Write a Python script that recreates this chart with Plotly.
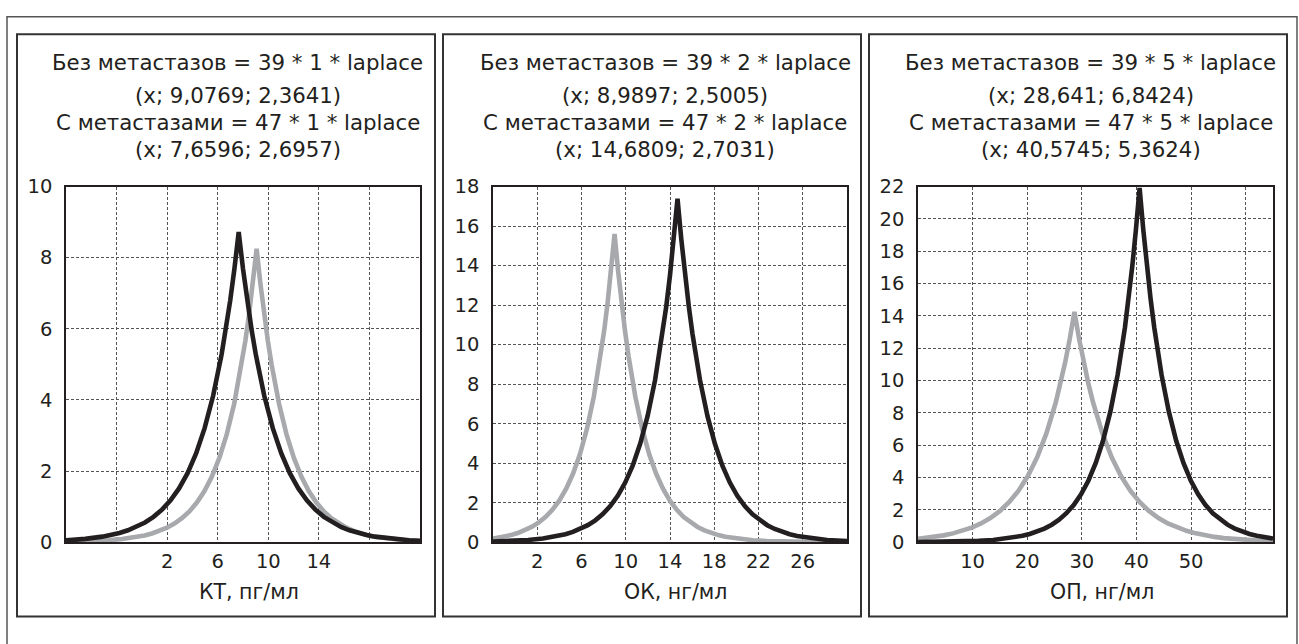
import plotly.graph_objects as go

W, H = 1299, 644

# ---------------- data ----------------
# Panel 1: КТ, пг/мл
kt_gray_x = [-6, -5.1077, -3.9257, -2.7436, -1.5616, -0.3795, 0.2115, 0.8025, 1.3936, 1.9846,
             2.5756, 3.1666, 3.7577, 4.3487, 4.9397, 5.5307, 6.1218, 6.7128, 7.3038, 7.8948,
             8.1904, 8.4859, 8.7814, 9.0769, 9.3724, 9.6679, 9.9634, 10.2590, 10.8500, 11.4410,
             12.0320, 12.6231, 13.2141, 13.8051, 14.3961, 14.9872, 15.5782, 16.1692, 16.7602,
             17.3513, 17.9423, 18.5333, 19.7154, 20.8974, 22]
kt_gray_y = [0.0140, 0.0205, 0.0337, 0.0556, 0.0916, 0.1509, 0.1938, 0.2491, 0.3200, 0.4108,
             0.5271, 0.6772, 0.8694, 1.1160, 1.4336, 1.8402, 2.3632, 3.0346, 3.8965, 5.0027,
             5.6691, 6.4239, 7.2792, 8.2484, 7.2792, 6.4239, 5.6691, 5.0027, 3.8965, 3.0346,
             2.3632, 1.8402, 1.4336, 1.1160, 0.8694, 0.6772, 0.5271, 0.4108, 0.3200,
             0.2491, 0.1938, 0.1509, 0.0916, 0.0556, 0.0349]
kt_black_x = [-6, -5.8189, -4.4711, -3.1232, -2.4493, -1.7754, -1.1014, -0.4275, 0.2464, 0.9203,
              1.5943, 2.2682, 2.9421, 3.6160, 4.2900, 4.9639, 5.6378, 6.3117, 6.6487, 6.9857,
              7.3226, 7.6596, 7.9966, 8.3335, 8.6705, 9.0075, 9.6814, 10.3553, 11.0292, 11.7032,
              12.3771, 13.0510, 13.7249, 14.3989, 15.0728, 15.7467, 16.4206, 17.0946, 17.7685,
              18.4424, 19.7903, 21.1381, 22]
kt_black_y = [0.0549, 0.0588, 0.0968, 0.1595, 0.2049, 0.2633, 0.3382, 0.4341, 0.5571, 0.7157,
              0.9188, 1.1795, 1.5151, 1.9449, 2.4976, 3.2072, 4.1182, 5.2872, 5.9916, 6.7893,
              7.6933, 8.7176, 7.6933, 6.7893, 5.9916, 5.2872, 4.1182, 3.2072, 2.4976, 1.9449,
              1.5151, 1.1795, 0.9188, 0.7157, 0.5571, 0.4341, 0.3382, 0.2633, 0.2049,
              0.1595, 0.0968, 0.0588, 0.0427]

# Panel 2: ОК, нг/мл
ok_gray_x = [-2, -1.0123, -0.3872, 0.2379, 0.8631, 1.4882, 2.1133, 2.7384, 3.3636, 3.9887,
             4.6138, 5.2389, 5.8641, 6.4892, 7.1143, 7.7394, 8.0520, 8.3646, 8.6771, 8.9897,
             9.3023, 9.6148, 9.9274, 10.2400, 10.8651, 11.4902, 12.1153, 12.7405, 13.3656,
             13.9907, 14.6158, 15.2410, 15.8661, 16.4912, 17.1163, 17.7415, 18.3666, 18.9917,
             20.2420, 21.4922, 22.7425, 23.9927, 25.2430, 26.4932, 27.7435, 28.9937, 30]
ok_gray_y = [0.1923, 0.2854, 0.3665, 0.4710, 0.6052, 0.7767, 0.9966, 1.2805, 1.6439, 2.1103,
             2.7107, 3.4797, 4.4685, 5.7381, 7.3680, 9.4595, 10.7197, 12.1469, 13.7643, 15.5969,
             13.7643, 12.1469, 10.7197, 9.4595, 7.3680, 5.7381, 4.4685, 3.4797, 2.7107,
             2.1103, 1.6439, 1.2805, 0.9966, 0.7767, 0.6052, 0.4710, 0.3665, 0.2854,
             0.1731, 0.1051, 0.0637, 0.0387, 0.0234, 0.0142, 0.0086, 0.0052, 0.0035]
ok_black_x = [-2, -1.5377, -0.1862, 1.1654, 2.5169, 3.8685, 4.5443, 5.2200, 5.8958, 6.5716,
              7.2474, 7.9231, 8.5989, 9.2747, 9.9505, 10.6262, 11.3020, 11.9778, 12.6536, 13.3293,
              13.6672, 14.0051, 14.3430, 14.6809, 15.0188, 15.3567, 15.6946, 16.0325, 16.7082,
              17.3840, 18.0598, 18.7356, 19.4113, 20.0871, 20.7629, 21.4387, 22.1144, 22.7902,
              23.4660, 24.1418, 24.8175, 25.4933, 26.8449, 28.1964, 29.5480, 30]
ok_black_y = [0.0363, 0.0431, 0.0711, 0.1172, 0.1930, 0.3182, 0.4086, 0.5251, 0.6746, 0.8659,
              1.1111, 1.4275, 1.8326, 2.3525, 3.0219, 3.8791, 4.9815, 6.3968, 8.2138, 10.5455,
              11.9503, 13.5413, 15.3444, 17.3874, 15.3444, 13.5413, 11.9503, 10.5455, 8.2138,
              6.3968, 4.9815, 3.8791, 3.0219, 2.3525, 1.8326, 1.4275, 1.1111, 0.8659,
              0.6746, 0.5251, 0.4086, 0.3182, 0.1930, 0.1172, 0.0711, 0.0602]

# Panel 3: ОП, нг/мл
op_gray_x = [0, 1.2714, 2.9820, 4.6926, 6.4032, 8.1138, 9.8244, 11.5350, 13.2456, 14.9562,
             16.6668, 18.3774, 20.0880, 21.7986, 23.5092, 25.2198, 26.0751, 26.9304, 27.7857,
             28.641, 29.4963, 30.3516, 31.2069, 32.0622, 33.7728, 35.4834, 37.1940, 38.9046,
             40.6152, 42.3258, 44.0364, 45.7470, 47.4576, 49.1682, 50.8788, 52.5894, 54.3000,
             56.0106, 59.4318, 62.8530, 65]
op_gray_y = [0.2165, 0.2608, 0.3349, 0.4303, 0.5529, 0.7096, 0.9105, 1.1699, 1.5019, 1.9279,
             2.4765, 3.1790, 4.0825, 5.2424, 6.7314, 8.6423, 9.7936, 11.0974, 12.5751,
             14.2494, 12.5751, 11.0974, 9.7936, 8.6423, 6.7314, 5.2424, 4.0825, 3.1790,
             2.4765, 1.9279, 1.5019, 1.1699, 0.9105, 0.7096, 0.5529, 0.4303, 0.3349,
             0.2608, 0.1582, 0.0960, 0.0702]
op_black_x = [0, 3.0377, 5.7189, 8.4001, 11.0813, 13.7625, 16.4437, 19.1249, 20.4655, 21.8061,
              23.1467, 24.4873, 25.8279, 27.1685, 28.5091, 29.8497, 31.1903, 32.5309, 33.8715,
              35.2121, 36.5527, 37.8933, 38.5636, 39.2339, 39.9042, 40.5745, 41.2448, 41.9151,
              42.5854, 43.2557, 44.5963, 45.9369, 47.2775, 48.6181, 49.9587, 51.2993, 52.6399,
              53.9805, 55.3211, 56.6617, 58.0023, 59.3429, 60.6835, 62.0241, 64.7053, 65]
op_black_y = [0.0113, 0.0200, 0.0329, 0.0543, 0.0896, 0.1477, 0.2432, 0.4010, 0.5149, 0.6617,
              0.8502, 1.0912, 1.4002, 1.7990, 2.3095, 2.9647, 3.8083, 4.8885, 6.2777,
              8.0614, 10.3511, 13.2895, 15.0600, 17.0649, 19.3372, 21.9118, 19.3372, 17.0649,
              15.0600, 13.2895, 10.3511, 8.0614, 6.2777, 4.8885, 3.8083, 2.9647, 2.3095,
              1.7990, 1.4002, 1.0912, 0.8502, 0.6617, 0.5149, 0.4010, 0.2432, 0.2302]

# tick values / labels
kt_xticks = [-6, -2, 2, 6, 10, 14, 18, 22]
kt_xlabels = ["", "", "2", "6", "10", "14", "", ""]
ok_xticks = [-2, 2, 6, 10, 14, 18, 22, 26, 30]
ok_xlabels = ["", "2", "6", "10", "14", "18", "22", "26", ""]
op_xticks = [0, 10, 20, 30, 40, 50, 60]
op_xlabels = ["", "10", "20", "30", "40", "50", ""]

kt_yticks = [0, 2, 4, 6, 8, 10]
ok_yticks = [0, 2, 4, 6, 8, 10, 12, 14, 16, 18]
op_yticks = [0, 2, 4, 6, 8, 10, 12, 14, 16, 18, 20, 22]

axis_titles = ["КТ, пг/мл", "ОК, нг/мл", "ОП, нг/мл"]
panel_titles = [
    ["Без метастазов = 39 * 1 * laplace", "(x; 9,0769; 2,3641)",
     "С метастазами = 47 * 1 * laplace", "(x; 7,6596; 2,6957)"],
    ["Без метастазов = 39 * 2 * laplace", "(x; 8,9897; 2,5005)",
     "С метастазами = 47 * 2 * laplace", "(x; 14,6809; 2,7031)"],
    ["Без метастазов = 39 * 5 * laplace", "(x; 28,641; 6,8424)",
     "С метастазами = 47 * 5 * laplace", "(x; 40,5745; 5,3624)"],
]

# ---------------- layout helpers ----------------
def fx(p):
    return p / W

def fy(p):
    return 1 - p / H

GRAY = "#a7a9ac"
BLACK = "#231f20"
TEXT = "#231f20"
FONT = "DejaVu Sans"

plot_px = [(66, 420), (493, 847), (918, 1273)]
plot_top, plot_bot = 182, 551
box_px = [(17, 435), (443, 861), (869, 1287)]

series = [
    (kt_gray_x, kt_gray_y, kt_black_x, kt_black_y, kt_xticks, kt_xlabels, kt_yticks, [-6, 22], [0, 10]),
    (ok_gray_x, ok_gray_y, ok_black_x, ok_black_y, ok_xticks, ok_xlabels, ok_yticks, [-2, 30], [0, 18]),
    (op_gray_x, op_gray_y, op_black_x, op_black_y, op_xticks, op_xlabels, op_yticks, [0, 65], [0, 22]),
]

fig = go.Figure()
layout = dict(
    width=W, height=H, margin=dict(l=0, r=0, t=0, b=0),
    paper_bgcolor="white", plot_bgcolor="white", showlegend=False,
    font=dict(family=FONT, color=TEXT),
)

annotations = []
shapes = []

for i, (gx, gy, bx, by, xt, xl, yt, xr, yr) in enumerate(series):
    n = "" if i == 0 else str(i + 1)
    xa, ya = "x" + n, "y" + n
    fig.add_trace(go.Scatter(x=gx, y=gy, mode="lines", xaxis=xa, yaxis=ya,
                             line=dict(color=GRAY, width=4.6), name="Без метастазов",
                             hoverinfo="skip"))
    fig.add_trace(go.Scatter(x=bx, y=by, mode="lines", xaxis=xa, yaxis=ya,
                             line=dict(color=BLACK, width=4.6), name="С метастазами",
                             hoverinfo="skip"))
    x0, x1 = plot_px[i]
    common = dict(showline=True, mirror=True, linecolor=BLACK, linewidth=1.5,
                  showgrid=True, gridcolor="#555555", gridwidth=1, griddash="3px,2px",
                  zeroline=False, ticks="", tickfont=dict(family=FONT, size=19.5, color=TEXT),
                  fixedrange=True)
    layout["xaxis" + n] = dict(common, domain=[fx(x0), fx(x1)], range=xr,
                               tickmode="array", tickvals=xt, ticktext=xl,
                               anchor=ya, ticklabelstandoff=1)
    layout["yaxis" + n] = dict(common, domain=[fy(plot_bot), fy(plot_top)], range=yr,
                               tickmode="array", tickvals=yt,
                               ticktext=[str(v) for v in yt],
                               anchor=xa, ticklabelstandoff=8)
    cx = (x0 + x1) / 2
    annotations.append(dict(text=axis_titles[i], x=fx(cx + 6), y=fy(603), xref="paper", yref="paper",
                            xanchor="center", yanchor="middle", showarrow=False,
                            font=dict(family=FONT, size=20.5, color=TEXT)))
    for j, (txt, yy) in enumerate(zip(panel_titles[i], [53, 88, 116, 144])):
        annotations.append(dict(text=txt, x=fx(cx - 5), y=fy(yy), xref="paper", yref="paper",
                                xanchor="center", yanchor="middle", showarrow=False,
                                font=dict(family=FONT, size=21.3, color=TEXT)))
    b0, b1 = box_px[i]
    shapes.append(dict(type="rect", xref="paper", yref="paper",
                       x0=fx(b0), x1=fx(b1), y0=fy(628), y1=fy(24),
                       line=dict(color="#333333", width=2)))

# outer frame (open at the bottom edge of the image)
shapes.append(dict(type="rect", xref="paper", yref="paper",
                   x0=fx(7), x1=fx(1297), y0=fy(660), y1=fy(6),
                   line=dict(color="#555555", width=1.5)))

layout["annotations"] = annotations
layout["shapes"] = shapes
fig.update_layout(**layout)

fig.write_html("out.html", config={"displayModeBar": False},
               post_script="document.body.style.margin='0';document.body.style.overflow='hidden';")
